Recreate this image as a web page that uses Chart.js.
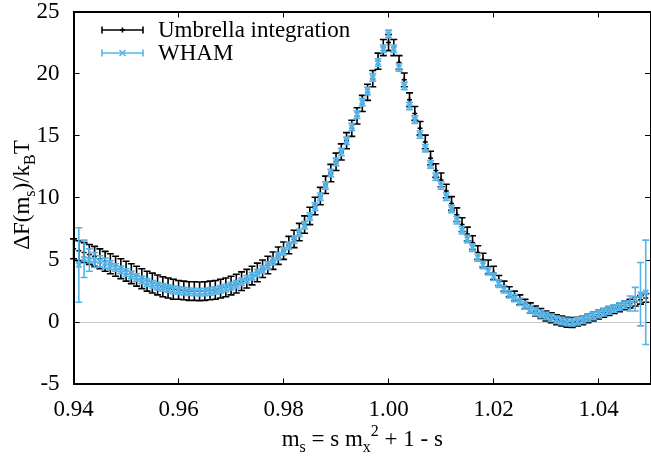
<!DOCTYPE html>
<html>
<head>
<meta charset="utf-8">
<script src="https://cdn.jsdelivr.net/npm/chart.js"></script>
<style>
html,body{margin:0;padding:0;background:#fff;}
canvas{display:block;}
</style>
</head>
<body>
<canvas id="chart" width="651" height="463"></canvas>
<script>
const ms = [
  0.940,0.941,0.942,0.943,0.944,0.945,0.946,0.947,0.948,0.949,
  0.950,0.951,0.952,0.953,0.954,0.955,0.956,0.957,0.958,0.959,
  0.960,0.961,0.962,0.963,0.964,0.965,0.966,0.967,0.968,0.969,
  0.970,0.971,0.972,0.973,0.974,0.975,0.976,0.977,0.978,0.979,
  0.980,0.981,0.982,0.983,0.984,0.985,0.986,0.987,0.988,0.989,
  0.990,0.991,0.992,0.993,0.994,0.995,0.996,0.997,0.998,0.999,
  1.000,1.001,1.002,1.003,1.004,1.005,1.006,1.007,1.008,1.009,
  1.010,1.011,1.012,1.013,1.014,1.015,1.016,1.017,1.018,1.019,
  1.020,1.021,1.022,1.023,1.024,1.025,1.026,1.027,1.028,1.029,
  1.030,1.031,1.032,1.033,1.034,1.035,1.036,1.037,1.038,1.039,
  1.040,1.041,1.042,1.043,1.044,1.045,1.046,1.047,1.048,1.049
]
const uiF = [
  5.9,5.75,5.6,5.45,5.3,5.1,4.9,4.7,4.5,4.3,
  4.1,3.9,3.7,3.5,3.3,3.15,3.0,2.85,2.75,2.65,
  2.6,2.55,2.5,2.5,2.48,2.5,2.55,2.6,2.7,2.8,
  2.95,3.1,3.3,3.5,3.75,4.0,4.3,4.6,4.95,5.35,
  5.75,6.2,6.7,7.25,7.85,8.55,9.35,10.15,11.05,12.0,
  12.9,13.7,14.6,15.6,16.6,17.6,18.5,19.6,21.0,22.1,
  22.5,22.1,20.9,19.5,17.9,16.8,15.6,14.5,13.2,12.2,
  11.45,10.55,9.55,8.65,7.85,7.1,6.4,5.6,5.0,4.45,
  3.95,3.35,2.9,2.45,2.1,1.8,1.45,1.15,0.9,0.7,
  0.5,0.35,0.2,0.1,0.0,-0.02,0.05,0.15,0.3,0.45,
  0.6,0.75,0.9,1.05,1.2,1.35,1.5,1.65,1.8,1.95
]
const uiErr = [
  0.8,0.8,0.8,0.8,0.8,0.8,0.8,0.8,0.8,0.8,
  0.8,0.8,0.8,0.8,0.8,0.8,0.8,0.8,0.8,0.8,
  0.75,0.75,0.75,0.75,0.75,0.75,0.75,0.75,0.75,0.75,
  0.75,0.75,0.75,0.75,0.75,0.75,0.7,0.7,0.7,0.7,
  0.7,0.7,0.7,0.7,0.7,0.7,0.7,0.7,0.7,0.7,
  0.7,0.65,0.65,0.65,0.65,0.65,0.65,0.65,0.65,0.65,
  0.65,0.65,0.55,0.55,0.55,0.55,0.55,0.55,0.55,0.55,
  0.55,0.55,0.55,0.55,0.55,0.55,0.55,0.55,0.55,0.55,
  0.55,0.4,0.4,0.4,0.4,0.4,0.4,0.4,0.4,0.4,
  0.4,0.4,0.4,0.4,0.4,0.4,0.35,0.35,0.35,0.35,
  0.35,0.35,0.35,0.35,0.35,0.35,0.35,0.35,0.35,0.35
]
const whamF = [
  null,4.6,5.1,5.0,5.0,4.9,4.75,4.6,4.4,4.2,
  4.0,3.8,3.6,3.4,3.2,3.05,2.9,2.8,2.7,2.6,
  2.55,2.5,2.45,2.42,2.4,2.42,2.48,2.55,2.65,2.75,
  2.9,3.05,3.25,3.45,3.7,3.95,4.25,4.55,4.9,5.3,
  5.7,6.15,6.65,7.2,7.8,8.5,9.3,10.1,11.0,12.0,
  12.9,13.7,14.6,15.7,16.7,17.7,18.6,19.7,20.9,22.0,
  23.2,22.0,20.5,19.0,17.4,16.3,15.1,14.0,12.7,11.7,
  11.0,10.1,9.1,8.2,7.4,6.7,6.0,5.2,4.6,4.1,
  3.65,3.1,2.65,2.25,1.95,1.65,1.35,1.05,0.85,0.65,
  0.5,0.35,0.2,0.1,0.02,0.0,0.08,0.2,0.35,0.5,
  0.65,0.8,0.95,1.1,1.25,1.4,1.5,1.85,2.25,2.4
]
const whamErr = [
  null,3.0,1.5,0.9,0.6,0.45,0.4,0.35,0.3,0.3,
  0.3,0.3,0.3,0.3,0.3,0.3,0.3,0.3,0.3,0.3,
  0.3,0.3,0.3,0.3,0.3,0.3,0.3,0.3,0.3,0.3,
  0.3,0.3,0.3,0.3,0.3,0.3,0.3,0.3,0.3,0.3,
  0.3,0.3,0.3,0.3,0.3,0.3,0.3,0.3,0.3,0.3,
  0.3,0.3,0.3,0.3,0.3,0.3,0.3,0.3,0.3,0.3,
  0.3,0.3,0.3,0.3,0.3,0.3,0.3,0.3,0.3,0.3,
  0.3,0.3,0.3,0.3,0.3,0.3,0.3,0.3,0.3,0.3,
  0.3,0.3,0.3,0.3,0.3,0.3,0.3,0.3,0.3,0.3,
  0.3,0.3,0.3,0.3,0.3,0.3,0.3,0.3,0.3,0.3,
  0.3,0.3,0.3,0.3,0.3,0.3,0.6,0.95,2.55,4.2
]
const xTicks = [0.94,0.96,0.98,1.00,1.02,1.04]
const yTicks = [-5,0,5,10,15,20,25]
const FONT = '"Liberation Serif", "Times New Roman", serif'
const BLUE = '#56b4e9'

function points(ys,errs){
  let out = []
  for(let i = 0;i < ms.length;i++){
    if(ys[i] !== null) out.push({x: ms[i], y: ys[i], e: errs[i]})
  }
  return out
}

function richText(ctx,parts,cx,cy){
  const big = '23px ' + FONT, small = '16px ' + FONT
  let w = 0
  parts.forEach(p => { ctx.font = p[1] === 'n' ? big : small; w += ctx.measureText(p[0]).width })
  let x = cx - w/2
  ctx.textBaseline = 'alphabetic'
  ctx.textAlign = 'left'
  parts.forEach(p => {
    ctx.font = p[1] === 'n' ? big : small
    let dy = p[1] === 'sub' ? 6 : (p[1] === 'sup' ? -10 : 0)
    ctx.fillText(p[0], x, cy + dy)
    x += ctx.measureText(p[0]).width
  })
}

function marker(ctx,style,x,y,r){
  ctx.beginPath()
  if(style === 'cross'){
    ctx.moveTo(x-r,y); ctx.lineTo(x+r,y); ctx.moveTo(x,y-r); ctx.lineTo(x,y+r)
  } else {
    ctx.moveTo(x-r,y-r); ctx.lineTo(x+r,y+r); ctx.moveTo(x-r,y+r); ctx.lineTo(x+r,y-r)
  }
  ctx.stroke()
}

const errorBars = {
  id: 'errorBars',
  beforeDatasetDraw(chart,args){
    const ds = chart.data.datasets[args.index]
    const ctx = chart.ctx, y = chart.scales.y
    ctx.save()
    ctx.strokeStyle = ds.borderColor
    ctx.lineWidth = 1.6
    ctx.beginPath()
    args.meta.data.forEach((p,j) => {
      const d = ds.data[j]
      const top = y.getPixelForValue(d.y + d.e), bot = y.getPixelForValue(d.y - d.e)
      ctx.moveTo(p.x,top); ctx.lineTo(p.x,bot)
      ctx.moveTo(p.x-3.5,top); ctx.lineTo(p.x+3.5,top)
      ctx.moveTo(p.x-3.5,bot); ctx.lineTo(p.x+3.5,bot)
    })
    ctx.stroke()
    ctx.restore()
  }
}

const labels = {
  id: 'labels',
  afterDraw(chart){
    const ctx = chart.ctx, a = chart.chartArea
    ctx.save()
    const rows = [
      {label: 'Umbrella integration', color: '#000', style: 'cross', y: 30},
      {label: 'WHAM', color: BLUE, style: 'crossRot', y: 53}
    ]
    rows.forEach(r => {
      ctx.strokeStyle = r.color
      ctx.lineWidth = 1.6
      ctx.beginPath()
      ctx.moveTo(102,r.y); ctx.lineTo(143,r.y)
      ctx.moveTo(102,r.y-3.5); ctx.lineTo(102,r.y+3.5)
      ctx.moveTo(143,r.y-3.5); ctx.lineTo(143,r.y+3.5)
      ctx.stroke()
      marker(ctx,r.style,122.5,r.y,r.style === 'cross' ? 2.5 : 3)
      ctx.fillStyle = '#000'
      ctx.font = '23px ' + FONT
      ctx.textAlign = 'left'
      ctx.textBaseline = 'middle'
      ctx.fillText(r.label,158,r.y+1)
    })
    ctx.fillStyle = '#000'
    richText(ctx,[['m','n'],['s','sub'],[' = s m','n'],['x','sub'],['2','sup'],[' + 1 - s','n']],(a.left+a.right)/2,446)
    ctx.translate(29,195)
    ctx.rotate(-Math.PI/2)
    richText(ctx,[['\u0394F(m','n'],['s','sub'],[')/k','n'],['B','sub'],['T','n']],0,0)
    ctx.restore()
  }
}

const frameBorder = {display: true, color: '#000', width: 2}

new Chart(document.getElementById('chart').getContext('2d'), {
  type: 'scatter',
  data: {
    datasets: [{
      label: 'Umbrella integration',
      data: points(uiF,uiErr),
      borderColor: '#000',
      backgroundColor: '#000',
      pointStyle: 'cross',
      pointRadius: 2.5,
      borderWidth: 1.5,
      order: 2
    },{
      label: 'WHAM',
      data: points(whamF,whamErr),
      borderColor: BLUE,
      backgroundColor: BLUE,
      pointStyle: 'crossRot',
      pointRadius: 3.5,
      borderWidth: 2,
      order: 1
    }]
  },
  plugins: [errorBars, labels],
  options: {
    responsive: false,
    animation: false,
    devicePixelRatio: 1,
    layout: {autoPadding: false, padding: {top: 11.5, right: -2, left: 0, bottom: 0}},
    plugins: {legend: {display: false}},
    scales: {
      x: {
        type: 'linear', position: 'bottom', min: 0.94, max: 1.05,
        afterBuildTicks: s => { s.ticks = xTicks.map(v => ({value: v})) },
        afterFit: s => { s.height = 78.7; s.paddingLeft = 0; s.paddingRight = 0 },
        ticks: {callback: v => v.toFixed(2), font: {family: FONT, size: 23}, color: '#000', padding: 18, maxRotation: 0, autoSkip: false},
        grid: {drawOnChartArea: false, tickLength: -6, tickColor: '#000', tickWidth: 1},
        border: frameBorder
      },
      x2: {
        type: 'linear', axis: 'x', position: 'top', min: 0.94, max: 1.05,
        afterBuildTicks: s => { s.ticks = xTicks.map(v => ({value: v})) },
        afterFit: s => { s.height = 0; s.paddingLeft = 0; s.paddingRight = 0 },
        ticks: {display: false},
        grid: {drawOnChartArea: false, tickLength: -6, tickColor: '#000', tickWidth: 1},
        border: frameBorder
      },
      y: {
        type: 'linear', position: 'left', min: -5, max: 25,
        afterBuildTicks: s => { s.ticks = yTicks.map(v => ({value: v})) },
        afterFit: s => { s.width = 73.6; s.paddingTop = 0; s.paddingBottom = 0 },
        ticks: {font: {family: FONT, size: 23}, color: '#000', padding: 20},
        grid: {
          tickLength: -6, tickColor: '#000', tickWidth: 1,
          color: c => (c.tick && c.tick.value === 0) ? '#c8c8c8' : 'rgba(0,0,0,0)'
        },
        border: frameBorder
      },
      y2: {
        type: 'linear', axis: 'y', position: 'right', min: -5, max: 25,
        afterBuildTicks: s => { s.ticks = yTicks.map(v => ({value: v})) },
        afterFit: s => { s.width = 0; s.paddingTop = 0; s.paddingBottom = 0 },
        ticks: {display: false},
        grid: {drawOnChartArea: false, tickLength: -6, tickColor: '#000', tickWidth: 1},
        border: frameBorder
      }
    }
  }
})
</script>
</body>
</html>
